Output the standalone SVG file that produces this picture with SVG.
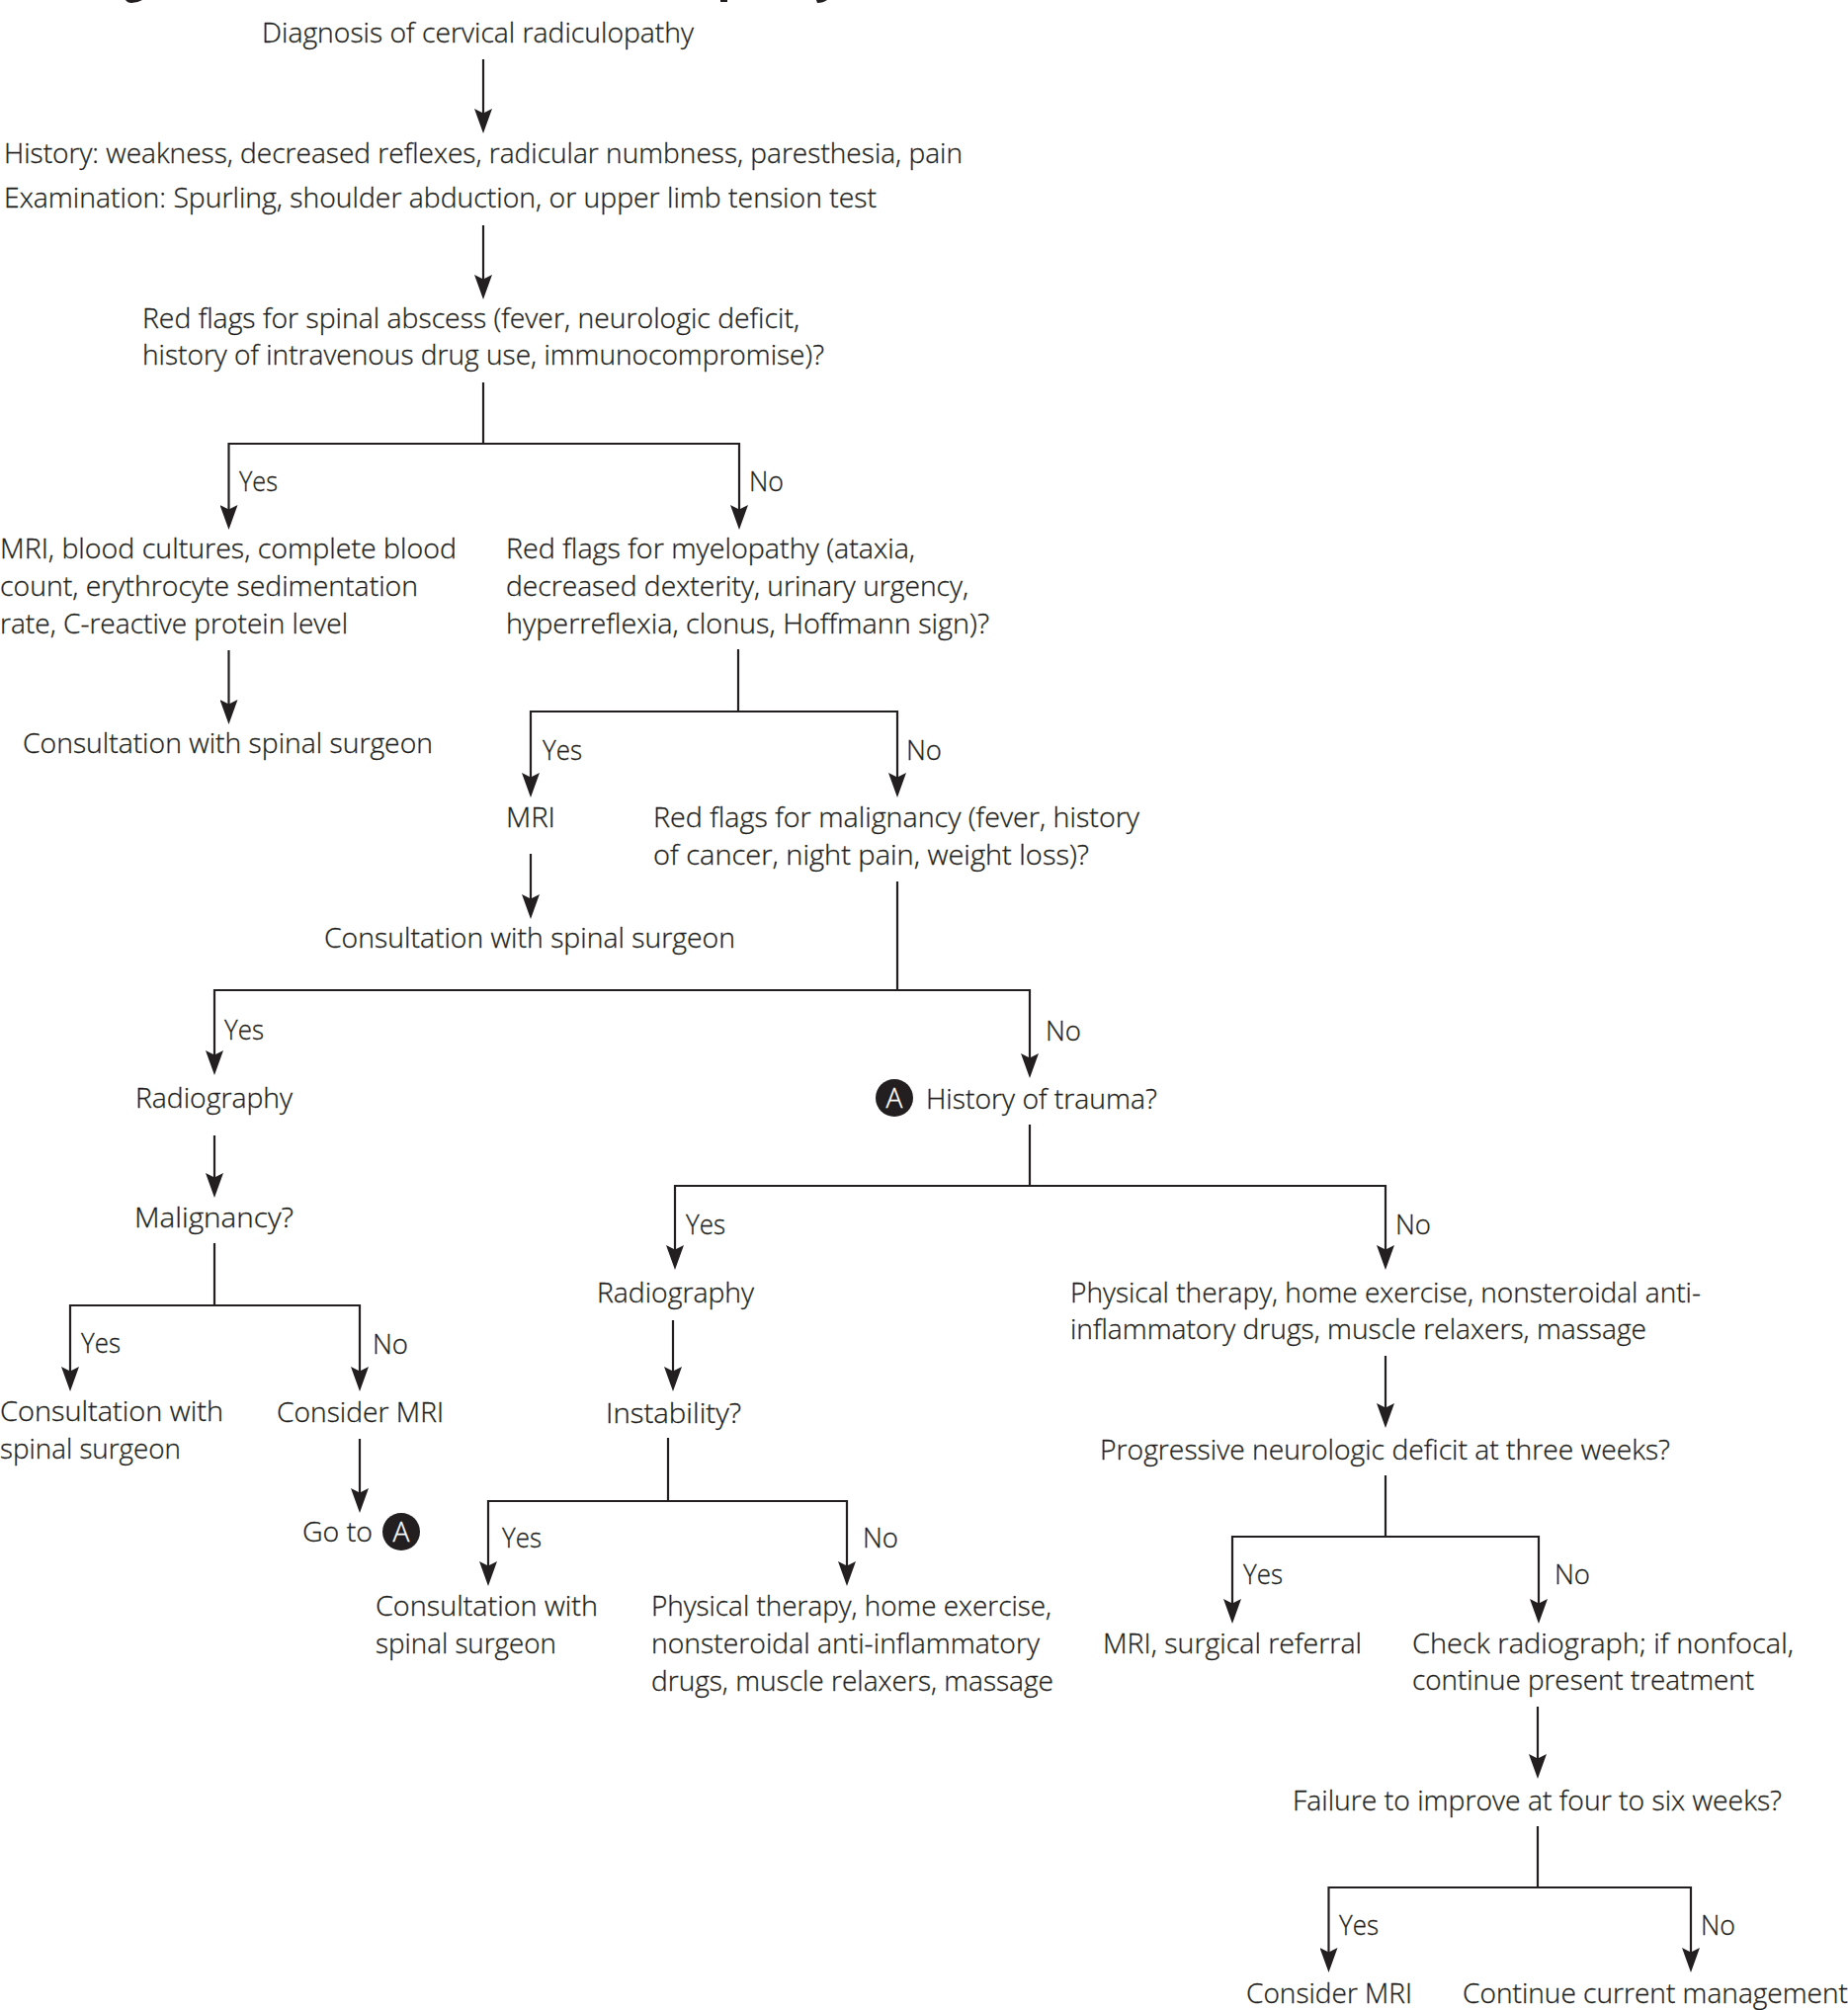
<svg xmlns="http://www.w3.org/2000/svg" width="1870" height="2034" viewBox="0 0 1870 2034">
<style>
text{font-family:"Open Sans","Noto Sans","Liberation Sans",sans-serif;font-weight:300;font-size:28px;fill:#231f20;stroke:#231f20;stroke-width:.3}
.l{stroke:#231f20;stroke-width:2.2;fill:none}
.a{marker-end:url(#h)}
.c{fill:#231f20}
text.w{fill:#fff;stroke:#fff;font-weight:300}
</style>
<defs><marker id="h" markerUnits="userSpaceOnUse" markerWidth="25" markerHeight="18" refX="15" refY="9" orient="auto"><path d="M0,0L4.500,9L0,18L25,9Z" fill="#231f20"/></marker></defs>
<rect width="1870" height="2034" fill="#fff"/>
<g id="title-remnant" fill="#231f20">
<path d="M127,0H144Q139,3 133,3Q129,3 127,0Z"/>
<path d="M729,0H736V2H729Z"/>
<path d="M826,0H837Q833,3 827,3Z"/>
</g>
<g id="connectors">
<path class="l a" d="M489,60V125"/>
<path class="l a" d="M489,228V293"/>
<path class="l" d="M489,387V449"/>
<path class="l a" d="M489,449H231.500V526"/>
<path class="l a" d="M489,449H748V526"/>
<path class="l a" d="M231.500,658V723"/>
<path class="l" d="M747,657V720"/>
<path class="l a" d="M747,720H537V797"/>
<path class="l a" d="M747,720H908V797"/>
<path class="l a" d="M537,864V920"/>
<path class="l" d="M908,892V1002"/>
<path class="l a" d="M908,1002H217V1078"/>
<path class="l a" d="M908,1002H1042V1081"/>
<path class="l a" d="M217,1149V1202"/>
<path class="l" d="M217,1258V1321"/>
<path class="l a" d="M217,1321H71V1398"/>
<path class="l a" d="M217,1321H364V1398"/>
<path class="l a" d="M364,1456V1521"/>
<path class="l" d="M1042,1138V1200"/>
<path class="l a" d="M1042,1200H683V1275"/>
<path class="l a" d="M1042,1200H1402V1275"/>
<path class="l a" d="M681,1336V1398"/>
<path class="l" d="M676,1455V1519"/>
<path class="l a" d="M676,1519H494V1595"/>
<path class="l a" d="M676,1519H857V1595"/>
<path class="l a" d="M1402,1372V1435"/>
<path class="l" d="M1402,1493V1555"/>
<path class="l a" d="M1402,1555H1247V1633"/>
<path class="l a" d="M1402,1555H1557V1633"/>
<path class="l a" d="M1556,1727V1790"/>
<path class="l" d="M1556,1848V1910"/>
<path class="l a" d="M1556,1910H1344.500V1986"/>
<path class="l a" d="M1556,1910H1711V1986"/>
</g>
<g id="edge-labels">
<text x="242" y="497" textLength="39" lengthAdjust="spacingAndGlyphs">Yes</text>
<text x="758" y="497" textLength="35" lengthAdjust="spacingAndGlyphs">No</text>
<text x="549" y="769" textLength="40" lengthAdjust="spacingAndGlyphs">Yes</text>
<text x="917" y="769" textLength="36" lengthAdjust="spacingAndGlyphs">No</text>
<text x="227" y="1052" textLength="40" lengthAdjust="spacingAndGlyphs">Yes</text>
<text x="1058" y="1053" textLength="36" lengthAdjust="spacingAndGlyphs">No</text>
<text x="694" y="1249" textLength="40" lengthAdjust="spacingAndGlyphs">Yes</text>
<text x="1412" y="1249" textLength="36" lengthAdjust="spacingAndGlyphs">No</text>
<text x="82" y="1369" textLength="40" lengthAdjust="spacingAndGlyphs">Yes</text>
<text x="377" y="1370" textLength="36" lengthAdjust="spacingAndGlyphs">No</text>
<text x="508" y="1566" textLength="40" lengthAdjust="spacingAndGlyphs">Yes</text>
<text x="873" y="1566" textLength="36" lengthAdjust="spacingAndGlyphs">No</text>
<text x="1258" y="1603" textLength="40" lengthAdjust="spacingAndGlyphs">Yes</text>
<text x="1573" y="1603" textLength="36" lengthAdjust="spacingAndGlyphs">No</text>
<text x="1355" y="1958" textLength="40" lengthAdjust="spacingAndGlyphs">Yes</text>
<text x="1721" y="1958" textLength="35" lengthAdjust="spacingAndGlyphs">No</text>
</g>
<g id="n-diagnosis"><text x="265" y="43" textLength="437" lengthAdjust="spacingAndGlyphs">Diagnosis of cervical radiculopathy</text></g>
<g id="n-history">
<text x="4" y="165" textLength="970" lengthAdjust="spacingAndGlyphs">History: weakness, decreased reflexes, radicular numbness, paresthesia, pain</text>
<text x="4" y="210" textLength="883" lengthAdjust="spacingAndGlyphs">Examination: Spurling, shoulder abduction, or upper limb tension test</text>
</g>
<g id="n-abscess">
<text x="144" y="332" textLength="665" lengthAdjust="spacingAndGlyphs">Red flags for spinal abscess (fever, neurologic deficit,</text>
<text x="144" y="369" textLength="690" lengthAdjust="spacingAndGlyphs">history of intravenous drug use, immunocompromise)?</text>
</g>
<g id="n-mri-cultures">
<text x="0" y="565" textLength="462" lengthAdjust="spacingAndGlyphs">MRI, blood cultures, complete blood</text>
<text x="0" y="603" textLength="423" lengthAdjust="spacingAndGlyphs">count, erythrocyte sedimentation</text>
<text x="0" y="641" textLength="352" lengthAdjust="spacingAndGlyphs">rate, C-reactive protein level</text>
</g>
<g id="n-consult-1"><text x="23" y="762" textLength="415" lengthAdjust="spacingAndGlyphs">Consultation with spinal surgeon</text></g>
<g id="n-myelopathy">
<text x="512" y="565" textLength="414" lengthAdjust="spacingAndGlyphs">Red flags for myelopathy (ataxia,</text>
<text x="512" y="603" textLength="468" lengthAdjust="spacingAndGlyphs">decreased dexterity, urinary urgency,</text>
<text x="512" y="641" textLength="489" lengthAdjust="spacingAndGlyphs">hyperreflexia, clonus, Hoffmann sign)?</text>
</g>
<g id="n-mri-1"><text x="512" y="837" textLength="50" lengthAdjust="spacingAndGlyphs">MRI</text></g>
<g id="n-malignancy-flags">
<text x="661" y="837" textLength="492" lengthAdjust="spacingAndGlyphs">Red flags for malignancy (fever, history</text>
<text x="661" y="875" textLength="441" lengthAdjust="spacingAndGlyphs">of cancer, night pain, weight loss)?</text>
</g>
<g id="n-consult-2"><text x="328" y="959" textLength="416" lengthAdjust="spacingAndGlyphs">Consultation with spinal surgeon</text></g>
<g id="n-radiography-1"><text x="137" y="1121" textLength="159" lengthAdjust="spacingAndGlyphs">Radiography</text></g>
<g id="n-trauma">
<circle class="c" cx="905" cy="1111" r="19"/>
<text class="w" x="905" y="1121" text-anchor="middle">A</text>
<text x="937" y="1122" textLength="234" lengthAdjust="spacingAndGlyphs">History of trauma?</text>
</g>
<g id="n-malignancy"><text x="136" y="1242" textLength="161" lengthAdjust="spacingAndGlyphs">Malignancy?</text></g>
<g id="n-consult-3">
<text x="0" y="1438" textLength="226" lengthAdjust="spacingAndGlyphs">Consultation with</text>
<text x="0" y="1476" textLength="183" lengthAdjust="spacingAndGlyphs">spinal surgeon</text>
</g>
<g id="n-consider-1"><text x="280" y="1439" textLength="169" lengthAdjust="spacingAndGlyphs">Consider MRI</text></g>
<g id="n-goto">
<text x="306" y="1560" textLength="71" lengthAdjust="spacingAndGlyphs">Go to</text>
<circle class="c" cx="406" cy="1550" r="19"/>
<text class="w" x="406" y="1560" text-anchor="middle">A</text>
</g>
<g id="n-radiography-2"><text x="604" y="1318" textLength="159" lengthAdjust="spacingAndGlyphs">Radiography</text></g>
<g id="n-instability"><text x="613" y="1440" textLength="137" lengthAdjust="spacingAndGlyphs">Instability?</text></g>
<g id="n-consult-4">
<text x="380" y="1635" textLength="225" lengthAdjust="spacingAndGlyphs">Consultation with</text>
<text x="380" y="1673" textLength="183" lengthAdjust="spacingAndGlyphs">spinal surgeon</text>
</g>
<g id="n-pt-1">
<text x="659" y="1635" textLength="405" lengthAdjust="spacingAndGlyphs">Physical therapy, home exercise,</text>
<text x="659" y="1673" textLength="393" lengthAdjust="spacingAndGlyphs">nonsteroidal anti-inflammatory</text>
<text x="659" y="1711" textLength="407" lengthAdjust="spacingAndGlyphs">drugs, muscle relaxers, massage</text>
</g>
<g id="n-pt-2">
<text x="1083" y="1318" textLength="638" lengthAdjust="spacingAndGlyphs">Physical therapy, home exercise, nonsteroidal anti-</text>
<text x="1083" y="1355" textLength="583" lengthAdjust="spacingAndGlyphs">inflammatory drugs, muscle relaxers, massage</text>
</g>
<g id="n-progressive"><text x="1113" y="1477" textLength="577" lengthAdjust="spacingAndGlyphs">Progressive neurologic deficit at three weeks?</text></g>
<g id="n-surgical"><text x="1116" y="1673" textLength="262" lengthAdjust="spacingAndGlyphs">MRI, surgical referral</text></g>
<g id="n-check">
<text x="1429" y="1673" textLength="386" lengthAdjust="spacingAndGlyphs">Check radiograph; if nonfocal,</text>
<text x="1429" y="1710" textLength="346" lengthAdjust="spacingAndGlyphs">continue present treatment</text>
</g>
<g id="n-failure"><text x="1308" y="1832" textLength="495" lengthAdjust="spacingAndGlyphs">Failure to improve at four to six weeks?</text></g>
<g id="n-consider-2"><text x="1261" y="2027" textLength="168" lengthAdjust="spacingAndGlyphs">Consider MRI</text></g>
<g id="n-continue"><text x="1480" y="2027" textLength="390" lengthAdjust="spacingAndGlyphs">Continue current management</text></g>
</svg>
